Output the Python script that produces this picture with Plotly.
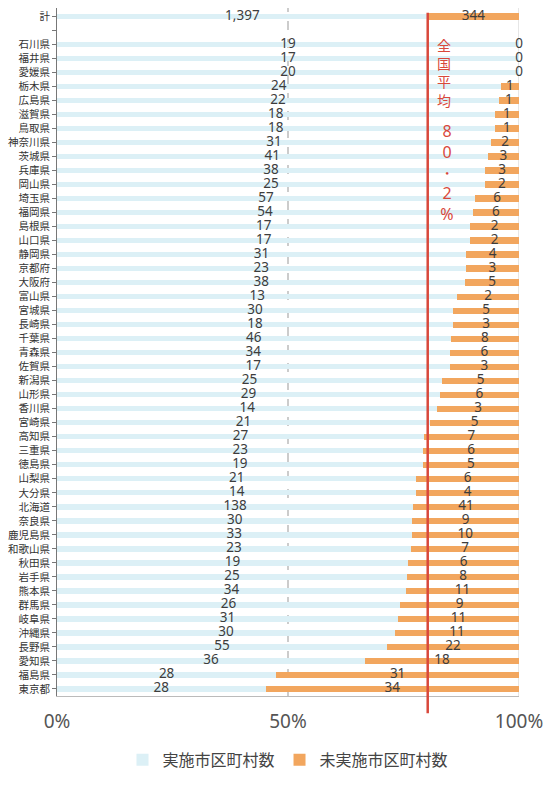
import plotly.graph_objects as go

categories = ["計", "", "石川県", "福井県", "愛媛県", "栃木県", "広島県", "滋賀県", "鳥取県", "神奈川県",
              "茨城県", "兵庫県", "岡山県", "埼玉県", "福岡県", "島根県", "山口県", "静岡県", "京都府",
              "大阪府", "富山県", "宮城県", "長崎県", "千葉県", "青森県", "佐賀県", "新潟県", "山形県",
              "香川県", "宮崎県", "高知県", "三重県", "徳島県", "山梨県", "大分県", "北海道", "奈良県",
              "鹿児島県", "和歌山県", "秋田県", "岩手県", "熊本県", "群馬県", "岐阜県", "沖縄県",
              "長野県", "愛知県", "福島県", "東京都"]
implemented = [1397, None, 19, 17, 20, 24, 22, 18, 18, 31, 41, 38, 25, 57, 54, 17, 17, 31, 23, 38,
               13, 30, 18, 46, 34, 17, 25, 29, 14, 21, 27, 23, 19, 21, 14, 138, 30, 33, 23, 19, 25,
               34, 26, 31, 30, 55, 36, 28, 28]
not_implemented = [344, None, 0, 0, 0, 1, 1, 1, 1, 2, 3, 3, 2, 6, 6, 2, 2, 4, 3, 5, 2, 5, 3, 8, 6,
                   3, 5, 6, 3, 5, 7, 6, 5, 6, 4, 41, 9, 10, 7, 6, 8, 11, 9, 11, 11, 22, 18, 31, 34]
x_ticks = [0, 50, 100]
x_tick_labels = ["0%", "50%", "100%"]
avg_text_1 = ["全", "国", "平", "均"]
avg_text_2 = ["8", "0", "・", "2", "%"]

BLUE = "#dcf0f6"
ORANGE = "#f2a65e"
RED = "#d9483b"
TXT = "#3d3d3d"

ys, a_pct, b_pct, a_lbl, b_lbl, a_mid, b_mid = [], [], [], [], [], [], []
for i, (a, b) in enumerate(zip(implemented, not_implemented)):
    if a is None:
        continue
    t = a + b
    pa = a / t * 100
    pb = b / t * 100
    ys.append(i)
    a_pct.append(pa)
    b_pct.append(pb)
    a_lbl.append(f"{a:,}")
    b_lbl.append(f"{b:,}")
    a_mid.append(pa / 2)
    b_mid.append(pa + pb / 2)

avg = implemented[0] / (implemented[0] + not_implemented[0]) * 100

fig = go.Figure()
fig.add_trace(go.Bar(y=ys, x=a_pct, orientation="h", name="実施市区町村数",
                     marker=dict(color=BLUE, line=dict(width=0)), width=0.38, hoverinfo="skip"))
fig.add_trace(go.Bar(y=ys, x=b_pct, orientation="h", name="未実施市区町村数",
                     marker=dict(color=ORANGE, line=dict(width=0)), width=0.45, hoverinfo="skip"))
fig.add_trace(go.Scatter(y=ys, x=a_mid, mode="text", text=a_lbl, showlegend=False, cliponaxis=False,
                         textfont=dict(size=13.5, color=TXT, family="Noto Sans"), hoverinfo="skip"))
fig.add_trace(go.Scatter(y=ys, x=b_mid, mode="text", text=b_lbl, showlegend=False, cliponaxis=False,
                         textfont=dict(size=13.5, color=TXT, family="Noto Sans"), hoverinfo="skip"))

fig.add_shape(type="line", xref="x", yref="paper", x0=avg, x1=avg, y0=-0.025, y1=0.993,
              line=dict(color=RED, width=2.5), layer="above")
fig.add_annotation(xref="x", yref="paper", x=avg, y=0.963, xanchor="left", yanchor="top",
                   xshift=7, text="<br>".join(avg_text_1), showarrow=False, align="center",
                   font=dict(size=14, color=RED, family="Noto Sans CJK JP"))
fig.add_annotation(xref="x", yref="paper", x=avg, y=0.84, xanchor="left", yanchor="top",
                   xshift=9, text="<br>".join(avg_text_2), showarrow=False, align="center",
                   font=dict(size=16, color=RED, family="Noto Sans"))

fig.update_layout(
    width=555, height=785,
    margin=dict(l=57, r=36, t=8, b=67),
    barmode="stack", bargap=0,
    plot_bgcolor="white", paper_bgcolor="white",
    font=dict(family="Noto Sans CJK JP", color=TXT),
    legend=dict(orientation="h", x=0.5, xanchor="center", y=-0.068, yanchor="top",
                font=dict(size=16, color="#444"), itemwidth=30, traceorder="normal"),
    showlegend=True,
)
fig.update_xaxes(range=[0, 100], tickvals=x_ticks, ticktext=x_tick_labels,
                 tickfont=dict(size=19, color="#555", family="Noto Sans"),
                 showgrid=False, zeroline=False, showline=True, linecolor="#bbbbbb",
                 linewidth=1, ticks="", ticklabelstandoff=8)
fig.add_shape(type="line", xref="x", yref="paper", x0=50, x1=50, y0=0, y1=1,
              line=dict(color="#999", width=1, dash="dash"), layer="below")
fig.add_shape(type="line", xref="x", yref="paper", x0=100, x1=100, y0=0, y1=1,
              line=dict(color="#cccccc", width=1), layer="below")
fig.update_yaxes(range=[48.5, -0.6], tickvals=list(range(len(categories))), ticktext=categories,
                 tickfont=dict(size=10.5, color="#333"), showgrid=False, zeroline=False,
                 showline=True, linecolor="#777", linewidth=1, ticks="outside", ticklen=4,
                 tickcolor="#777")

fig.write_html("out.html")
